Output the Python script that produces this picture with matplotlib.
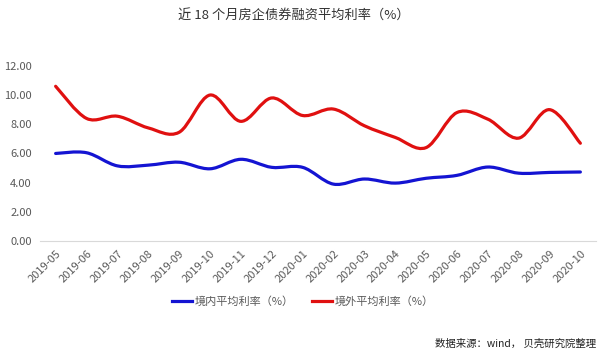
import numpy as np
import matplotlib
matplotlib.use('Agg')
from matplotlib import pyplot as plt
from matplotlib.path import Path
from matplotlib.patches import PathPatch
from matplotlib.lines import Line2D

plt.rcParams['font.family'] = ['Noto Sans CJK SC', 'DejaVu Sans']

months = ['2019-05', '2019-06', '2019-07', '2019-08', '2019-09', '2019-10',
          '2019-11', '2019-12', '2020-01', '2020-02', '2020-03', '2020-04',
          '2020-05', '2020-06', '2020-07', '2020-08', '2020-09', '2020-10']
domestic = [6.0, 6.05, 5.15, 5.2, 5.4, 4.95, 5.6, 5.05, 5.05, 3.9, 4.25, 3.97,
            4.3, 4.5, 5.07, 4.65, 4.7, 4.73]
overseas = [10.6, 8.4, 8.55, 7.75, 7.45, 10.0, 8.2, 9.8, 8.6, 9.04, 7.9, 7.1,
            6.4, 8.8, 8.35, 7.05, 9.0, 6.7]
yticks = [0, 2, 4, 6, 8, 10, 12]


def smooth_path(x, y, k=1/6):
    # excel-like smoothed line: cubic bezier through every point
    x = np.asarray(x, float)
    y = np.asarray(y, float)
    verts = [(x[0], y[0])]
    codes = [Path.MOVETO]
    n = len(x)
    for i in range(n - 1):
        p0 = i - 1 if i > 0 else i
        p3 = i + 2 if i + 2 < n else i + 1
        c1 = (x[i] + (x[i + 1] - x[p0]) * k, y[i] + (y[i + 1] - y[p0]) * k)
        c2 = (x[i + 1] - (x[p3] - x[i]) * k, y[i + 1] - (y[p3] - y[i]) * k)
        verts += [c1, c2, (x[i + 1], y[i + 1])]
        codes += [Path.CURVE4] * 3
    return Path(verts, codes)


fig = plt.figure(figsize=(6, 3.54), dpi=100)
ax = fig.add_axes([0.067, 0.319, 0.926, 0.495])

xs = np.arange(len(months))
blue = '#1414d2'
red = '#e01010'
for vals, col in [(domestic, blue), (overseas, red)]:
    ax.add_patch(PathPatch(smooth_path(xs, vals), facecolor='none',
                           edgecolor=col, lw=2.3, capstyle='round'))

ax.set_xlim(-0.5, len(months) - 0.5)
ax.set_ylim(0, 12)
ax.set_yticks(yticks)
ax.set_yticklabels(['%.2f' % v for v in yticks])
ax.set_xticks(xs)
ax.set_xticklabels(months, rotation=45, ha='right', rotation_mode='anchor')
ax.tick_params(axis='both', length=0, labelsize=8, colors='#595959')
ax.tick_params(axis='x', pad=5)
ax.tick_params(axis='y', pad=6)
for s in ['top', 'right', 'left']:
    ax.spines[s].set_visible(False)
ax.spines['bottom'].set_color('#d9d9d9')

fig.text(0.49, 0.955, '近 18 个月房企债券融资平均利率（%）', ha='center', va='center',
         fontsize=9.5, color='#333333')

handles = [Line2D([], [], color=blue, lw=2.3), Line2D([], [], color=red, lw=2.3)]
fig.legend(handles, ['境内平均利率（%）', '境外平均利率（%）'], loc='center',
           bbox_to_anchor=(0.505, 0.148), ncol=2, frameon=False, fontsize=8,
           handlelength=1.8, handletextpad=0.2, columnspacing=1.7,
           labelcolor='#595959')

fig.text(0.993, 0.03, '数据来源：wind， 贝壳研究院整理', ha='right', va='center',
         fontsize=7.5, color='#222222')

fig.savefig('out.png', dpi=100)
